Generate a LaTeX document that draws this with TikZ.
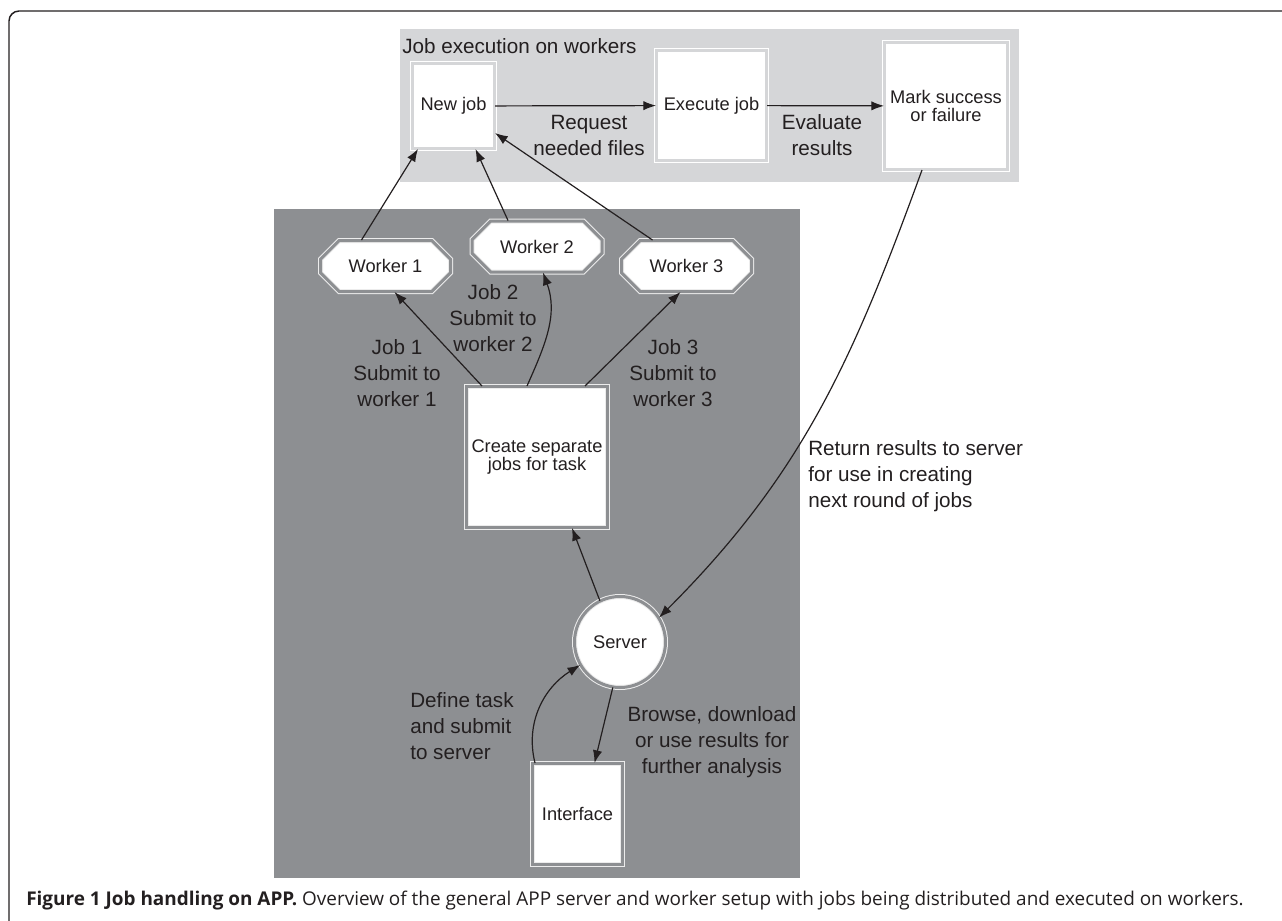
\documentclass[tikz,border=0pt]{standalone}
\usepackage{fontspec}
\setmainfont{Liberation Sans}
\newfontfamily\capfont{Open Sans}
\usetikzlibrary{arrows.meta, calc, shapes.misc}
\definecolor{lightbg}{RGB}{213,214,216}
\definecolor{darkbg}{RGB}{141,143,146}
\definecolor{ink}{RGB}{35,31,32}
\definecolor{rim}{RGB}{236,236,236}

\tikzset{
  box/.style={draw=rim, double=darkbg, double distance=2.25pt, line width=0.75pt,
    fill=white, inner sep=0pt, align=center, text=ink,
    font=\fontsize{13.7}{14}\selectfont},
  topbox/.style={box, draw=white, double=lightbg},
  worker/.style={box, chamfered rectangle, chamfered rectangle xsep=24pt,
    chamfered rectangle ysep=9pt, minimum width=97.5pt, minimum height=38.25pt},
  lbl/.style={font=\fontsize{15.5}{19.5}\selectfont, text=ink, align=center, inner sep=0pt},
  arr/.style={-{Latex[length=9.5pt,width=7pt]}, line width=0.9pt, draw=ink},
}

\begin{document}
\begin{tikzpicture}[x=0.75pt, y=-0.75pt]
        \useasboundingbox (0,0) rectangle (1282,921);
        \draw[line width=1.1pt, draw=ink, rounded corners=7.5pt] (9,921) -- (9,11) -- (1282,11);

        \fill[lightbg] (400,29) rectangle (1019,182);
        \fill[darkbg] (274,209) rectangle (800,878);

        \node[lbl, anchor=west] (ttl) at (402,46) {Job execution on workers};

        \node[topbox, minimum width=61.5pt, minimum height=63.75pt] (nj) at (453.5,106) {New job};
        \node[topbox, minimum size=82.5pt] (ex) at (711.5,105.5) {Execute job};
        \node[topbox, minimum width=92.25pt, minimum height=95.25pt] (mk) at (946,106) {Mark success\\or failure};

        \node[lbl] (req) at (589,135) {Request\\needed files};
        \node[lbl] (eval) at (822,135) {Evaluate\\results};

        \draw[arr] (nj) -- (ex);
        \draw[arr] (ex) -- (mk);

        %%%

        \node[worker] (w1) at (385.5,266) {Worker 1};
        \node[worker] (w2) at (537,246.5) {Worker 2};
        \node[worker] (w3) at (686.5,266) {Worker 3};

        \node[box, minimum size=105.75pt] (cr) at (537,457) {Create separate\\jobs for task};
        \node[box, circle, minimum size=68.25pt] (srv) at (620,642) {Server};
        \node[box, minimum width=67.5pt, minimum height=75.75pt] (if) at (577.5,814) {Interface};

        \node[lbl] (j1) at (397,373) {Job 1\\Submit to\\worker 1};
        \node[lbl] (j2) at (493,318) {Job 2\\Submit to\\worker 2};
        \node[lbl] (j3) at (673,373) {Job 3\\Submit to\\worker 3};
        \node[lbl, align=left, anchor=west] (def) at (410,726) {Define task\\and submit\\to server};
        \node[lbl] (brw) at (712,742) {Browse, download\\or use results for\\further analysis};
        \node[lbl, align=left, anchor=west] (ret) at (808,476) {Return results to server\\for use in creating\\next round of jobs};

        \draw[arr] ($(w1.north)+(-24,0)$) -- ($(nj.south west)+(6,0)$);
        \draw[arr] ($(w2.north)+(-29,0)$) -- ($(nj.south)+(22,0)$);
        \draw[arr] ($(w3.north)+(-34,0)$) -- ($(nj.east)+(0,27)$);

        \draw[arr] ($(cr.north west)+(16,0)$) -- ($(w1.south)+(9,0)$);
        \draw[arr] ($(cr.north)+(-10,0)$) to[out=66, in=-70] ($(w2.south)+(6,0)$);
        \draw[arr] ($(cr.north east)+(-23,0)$) -- ($(w3.south)+(-6,0)$);

        \draw[arr] (srv.116) -- ($(cr.south)+(35,0)$);
        \draw[arr] ($(mk.south)+(-24,0)$) to[out=-110, in=45] (srv.32);
        \draw[arr] ($(if.north west)+(3,0)$) to[out=104, in=-148] (srv.210);
        \draw[arr] (srv.261) -- ($(if.north)+(17,0)$);

        \node[anchor=base west, inner sep=0pt, text=ink, font=\capfont\fontsize{14.2}{16}\selectfont] (cap) at (26,905)
          {\textbf{Figure 1 Job handling on APP.} Overview of the general APP server and worker setup with jobs being distributed and executed on workers.};
\end{tikzpicture}
\end{document}
